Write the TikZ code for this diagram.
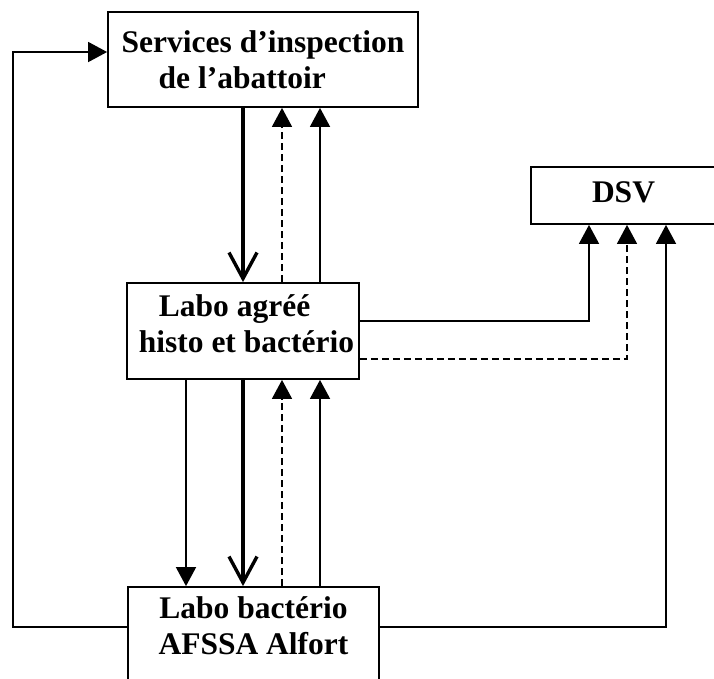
\documentclass[tikz,border=0pt]{standalone}
\usepackage{fontspec}
\setmainfont{Liberation Serif}
\usetikzlibrary{arrows.meta}
\begin{document}
\begin{tikzpicture}[x=1pt,y=-1pt,
  box/.style={draw,line width=1.8pt,inner sep=0pt,font=\bfseries\fontsize{31.5}{36}\selectfont},
  tri/.style={-{Triangle[length=19pt,width=20pt]}},
  vee/.style={-{Straight Barb[length=26pt,width=28pt,line width=3.4pt]}},
  thinline/.style={line width=1.7pt},
  thickline/.style={line width=3.2pt},
  dashline/.style={line width=1.6pt,dash pattern=on 7pt off 4pt},
]
\useasboundingbox (0,0) rectangle (714,678);
\clip (0,0) rectangle (714,678);

% boxes
\node[box,align=left,minimum width=310pt,minimum height=95pt] (insp) at (263,59.5)
  {Services d’inspection\\\hspace*{37pt}de l’abattoir};
\node[box,align=left,minimum width=232pt,minimum height=96pt] (mid) at (243,331)
  {\hspace*{27pt}Labo agréé\\\hspace*{7pt}histo et bactério\rule[-14pt]{0pt}{0pt}};
\node[box,align=center,minimum width=185pt,minimum height=57pt] (dsv) at (623.5,195.5)
  {DSV\rule[-6pt]{0pt}{0pt}};
\node[box,align=center,minimum width=251pt,minimum height=118pt] (afssa) at (253.5,646)
  {Labo bactério\\AFSSA Alfort\rule[-41pt]{0pt}{0pt}};

% column / row reference points
\coordinate (c13) at (13,0);
\coordinate (c186) at (186,0);
\coordinate (c243) at (243,0);
\coordinate (c282) at (282,0);
\coordinate (c320) at (320,0);
\coordinate (c589) at (589,0);
\coordinate (c627) at (627,0);
\coordinate (c666) at (666,0);
\coordinate (r52) at (0,52);
\coordinate (r321) at (0,321);
\coordinate (r359) at (0,359);
\coordinate (r627) at (0,627);

% top <-> middle
\draw[thickline,vee] (insp.south -| c243) -- (mid.north -| c243);
\draw[dashline,tri] (mid.north -| c282) -- (insp.south -| c282);
\draw[thinline,tri] (mid.north -| c320) -- (insp.south -| c320);

% middle -> DSV
\draw[thinline,tri] (mid.east |- r321) -| (dsv.south -| c589);
\draw[dashline,tri] (mid.east |- r359) -| (dsv.south -| c627);

% middle <-> bottom
\draw[thinline,tri] (mid.south -| c186) -- (afssa.north -| c186);
\draw[thickline,vee] (mid.south -| c243) -- (afssa.north -| c243);
\draw[dashline,tri] (afssa.north -| c282) -- (mid.south -| c282);
\draw[thinline,tri] (afssa.north -| c320) -- (mid.south -| c320);

% bottom -> DSV and bottom -> top
\draw[thinline,tri] (afssa.east |- r627) -| (dsv.south -| c666);
\draw[thinline,tri] (afssa.west |- r627) -| (c13 |- r52) -- (insp.west |- r52);
\end{tikzpicture}
\end{document}
